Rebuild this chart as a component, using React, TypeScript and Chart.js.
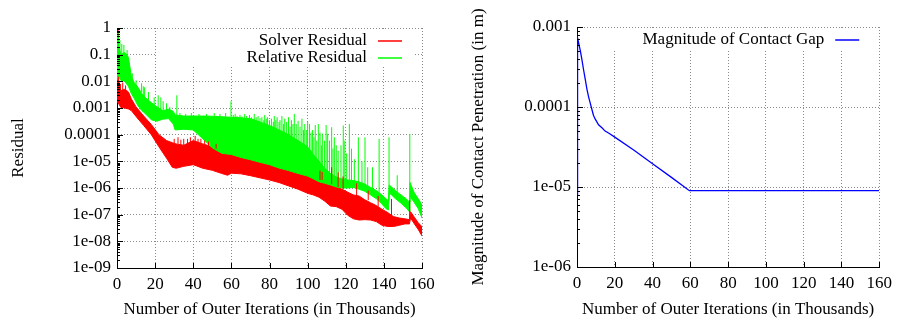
import React, { useEffect, useRef } from "react";
import { Chart, registerables } from "chart.js";
Chart.register(...registerables);

const FONT = "'Liberation Serif', 'Times New Roman', serif";

// ---------- shared x axis ----------
const xTickValues = [0, 20, 40, 60, 80, 100, 120, 140, 160];

// ---------- left chart: residuals ----------
const leftYTicks = [1, 0.1, 0.01, 0.001, 0.0001, 1e-5, 1e-6, 1e-7, 1e-8, 1e-9];
const leftYTickLabels = ["1", "0.1", "0.01", "0.001", "0.0001", "1e-05", "1e-06", "1e-07", "1e-08", "1e-09"];

// Solver residual band (upper / lower envelope of the noisy trace)
const redX = [0, 0.5, 2, 4, 6, 7.5, 10, 14, 18, 22, 26, 29, 31, 35, 40, 45, 50, 55, 58, 60, 65, 70, 75, 80, 85, 90, 95, 100, 103, 106, 109, 112, 115, 118, 121, 124, 127, 130, 133, 136, 139, 142, 145, 148, 151, 153.4, 154, 156, 158, 160];
const redHigh = [1.0, 0.012, 0.0045, 0.005, 0.004, 0.0022, 0.0011, 0.0005, 0.00024, 0.0001, 6e-5, 5e-5, 4.5e-5, 4e-5, 6e-5, 4.5e-5, 3.5e-5, 2.6e-5, 2.2e-5, 2e-5, 1.7e-5, 1.3e-5, 1.05e-5, 8e-6, 6.3e-6, 5e-6, 3.8e-6, 3e-6, 2.6e-6, 2.3e-6, 1.8e-6, 1.5e-6, 1.15e-6, 9e-7, 7e-7, 5.5e-7, 5e-7, 3.6e-7, 2.8e-7, 2.2e-7, 1.6e-7, 1.2e-7, 8.5e-8, 7.5e-8, 7e-8, 6.5e-8, 1.3e-7, 8e-8, 5e-8, 3.5e-8];
const redLow = [0.01, 0.0016, 0.00105, 0.001, 0.00092, 0.0008, 0.00048, 0.00022, 0.0001, 3.5e-5, 1.3e-5, 6e-6, 5.5e-6, 6.5e-6, 7.5e-6, 5.5e-6, 4.6e-6, 3.5e-6, 3e-6, 3.6e-6, 3.4e-6, 2.9e-6, 2.4e-6, 2e-6, 1.6e-6, 1.2e-6, 9e-7, 6.3e-7, 5.5e-7, 4.5e-7, 3.2e-7, 2.1e-7, 2e-7, 1.6e-7, 9.5e-8, 7e-8, 6.3e-8, 6.5e-8, 6.3e-8, 5.5e-8, 4e-8, 3.6e-8, 3.6e-8, 4e-8, 4.5e-8, 4.5e-8, 7.5e-8, 4.5e-8, 2.8e-8, 1.6e-8];
// isolated red spikes: x, base, top
const redSpikeX = [0.7, 1, 1.8, 3, 4.5, 30, 32, 33.5, 35, 37, 38.5, 41, 42.5, 44, 46, 48, 52, 106.5, 107.6, 112.6, 116, 118.6, 125.7, 131.8, 137, 144, 153.5];
const redSpikeBase = [0.005, 0.004, 0.004, 0.004, 0.004, 4.5e-5, 4.5e-5, 4e-5, 4e-5, 4e-5, 4.5e-5, 5e-5, 5e-5, 4.5e-5, 4e-5, 3.8e-5, 3e-5, 2e-6, 2e-6, 1.4e-6, 1.1e-6, 9e-7, 5e-7, 3.5e-7, 2e-7, 9e-8, 6.5e-8];
const redSpikeTop = [0.015, 0.011, 0.008, 0.009, 0.007, 7e-5, 8e-5, 6.5e-5, 7e-5, 7e-5, 8e-5, 9e-5, 7e-5, 7e-5, 6e-5, 5.5e-5, 4.5e-5, 4.5e-6, 4e-6, 6e-6, 3.9e-6, 2.7e-6, 1.5e-6, 8e-7, 5e-7, 3.9e-7, 3.4e-7];

// Relative residual band
const greenX = [0, 0.5, 2, 4, 6, 7.5, 9, 11, 13, 15, 18, 21, 24, 27, 29.5, 30.5, 35, 40, 45, 50, 55, 60, 65, 70, 75, 80, 85, 90, 95, 100, 103, 106, 109, 112, 115, 118, 121, 124, 127, 130, 133, 136, 139, 141, 142.4, 142.8, 144, 146, 149, 152, 153.3, 153.7, 156, 158, 160];
const greenHigh = [0.7, 0.3, 0.1, 0.12, 0.08, 0.016, 0.009, 0.006, 0.0035, 0.0024, 0.0016, 0.0011, 0.0008, 0.0009, 0.00075, 0.00055, 0.0005, 0.0005, 0.0005, 0.00049, 0.00047, 0.00045, 0.00043, 0.0004, 0.0003, 0.00022, 0.00015, 1e-4, 6e-5, 3.5e-5, 1.8e-5, 1e-5, 5.5e-6, 3.5e-6, 2.6e-6, 2.2e-6, 2e-6, 1.9e-6, 1.7e-6, 1.4e-6, 1.05e-6, 8e-7, 5.5e-7, 4e-7, 3.3e-7, 1.3e-6, 1.1e-6, 8e-7, 5.5e-7, 3.8e-7, 3e-7, 1.6e-6, 6.5e-7, 4e-7, 2.3e-7];
const greenLow = [0.012, 0.014, 0.011, 0.01, 0.0065, 0.0035, 0.0023, 0.0012, 0.0008, 0.0006, 0.00036, 0.00032, 0.00038, 0.0004, 0.00025, 0.00015, 0.00016, 0.00015, 7e-5, 3.2e-5, 2e-5, 1.8e-5, 1.4e-5, 1.15e-5, 9.2e-6, 7.5e-6, 5.6e-6, 4.5e-6, 3.5e-6, 2.8e-6, 2.2e-6, 1.7e-6, 1.5e-6, 1.3e-6, 1.1e-6, 1e-6, 1e-6, 1.05e-6, 9e-7, 7.5e-7, 5.5e-7, 4e-7, 2.5e-7, 1.7e-7, 1.5e-7, 6.5e-7, 5.5e-7, 4e-7, 2.7e-7, 1.7e-7, 1.3e-7, 5e-7, 2.8e-7, 1.7e-7, 7.5e-8];
// isolated green spikes: x, base, top
const greenSpikeX = [0.8, 1.5, 2.5, 3.6, 4.8, 5.3, 8, 10, 12.9, 13.8, 14.5, 16.5, 19.5, 21.6, 23, 24.2, 26, 27.7, 31.4, 33, 36, 39, 43, 47, 51, 54, 57, 59.8,
  61, 62, 63, 64.5, 65.5, 67, 68, 69.5, 70.5, 72, 73, 74, 75, 76, 77, 77.5, 78.3, 79, 80, 81, 82, 82.5, 83.3, 84, 85, 85.5, 86.5, 87.3, 88, 89, 90, 90.8, 91.5, 92.3, 93, 94, 95, 96, 97, 97.8, 98.5, 99.3, 100,
  101, 101.8, 102.5, 103.3, 104, 104.8, 105.6, 106.5, 107.2, 107.7, 108.8, 109.7, 110.5, 111.5, 112.6, 113.3, 114, 115, 116, 117.5, 118.7, 119.5, 120.5, 121.9, 123, 124.5, 126.6, 128.5, 130.1, 131.5, 134, 137.5, 142.7, 147, 153.6];
const greenSpikeBase = [0.2, 0.12, 0.1, 0.1, 0.09, 0.08, 0.012, 0.007, 0.004, 0.003, 0.0025, 0.002, 0.0013, 0.001, 0.0009, 0.0008, 0.0008, 0.0008, 0.0005, 4.8e-4, 4.8e-4, 4.8e-4, 4.8e-4, 4.8e-4, 4.7e-4, 4.6e-4, 4.5e-4, 4.4e-4,
  3e-4, 3e-4, 3e-4, 3e-4, 3e-4, 3e-4, 3e-4, 3e-4, 3e-4, 3e-4, 3e-4, 3e-4, 1.5e-4, 1.5e-4, 1.5e-4, 1.5e-4, 1.5e-4, 1.5e-4, 1.5e-4, 1.5e-4, 1.5e-4, 1.5e-4, 1.5e-4, 1.5e-4, 1e-4, 1e-4, 1e-4, 1e-4, 1e-4, 1e-4, 6e-5, 6e-5, 6e-5, 6e-5, 6e-5, 6e-5, 3.5e-5, 3.5e-5, 3.5e-5, 3.5e-5, 3.5e-5, 3.5e-5, 3e-5,
  1.8e-5, 1.8e-5, 1.8e-5, 1e-5, 1e-5, 1e-5, 1e-5, 5.5e-6, 5.5e-6, 5.5e-6, 5.5e-6, 3.5e-6, 3.5e-6, 3.5e-6, 2.5e-6, 2.5e-6, 2.5e-6, 2.4e-6, 2.3e-6, 2.2e-6, 2.1e-6, 2e-6, 2e-6, 1.9e-6, 1.9e-6, 1.8e-6, 1.6e-6, 1.5e-6, 1.3e-6, 1.2e-6, 9e-7, 6.5e-7, 3.3e-7, 6.5e-7, 3e-7];
const greenSpikeTop = [0.5, 0.35, 0.25, 0.23, 0.11, 0.15, 0.02, 0.011, 0.0085, 0.0065, 0.006, 0.004, 0.0025, 0.003, 0.0025, 0.0018, 0.0015, 0.0011, 0.003, 6.5e-4, 6e-4, 6.5e-4, 6e-4, 6e-4, 6.5e-4, 6e-4, 6.5e-4, 1.8e-3,
  5.5e-4, 6e-4, 5e-4, 5.5e-4, 4.8e-4, 6e-4, 5e-4, 5.5e-4, 4.5e-4, 6e-4, 4.5e-4, 5e-4, 4.2e-4, 4.5e-4, 3.5e-4, 5.5e-4, 4e-4, 4.5e-4, 3.5e-4, 4e-4, 3e-4, 5e-4, 3.5e-4, 4.5e-4, 3e-4, 3.5e-4, 5e-4, 2.5e-4, 4e-4, 3e-4, 4.5e-4, 2e-4, 3.5e-4, 2.5e-4, 6e-4, 2.5e-4, 3.3e-4, 2e-4, 4e-4, 1.5e-4, 2.5e-4, 1.5e-4, 3e-4,
  2.5e-4, 1.2e-4, 1.5e-4, 8e-5, 2.3e-4, 6e-5, 2.5e-4, 1.2e-4, 4e-5, 1.1e-4, 6e-5, 2.3e-4, 1.1e-4, 6e-5, 1.9e-4, 3e-5, 8e-5, 4e-5, 2.5e-5, 4e-5, 2.2e-4, 6e-5, 2e-5, 2.5e-4, 3e-5, 1.2e-5, 8e-5, 1e-5, 8e-5, 6e-6, 6e-6, 7e-5, 8e-5, 3e-6, 1.06e-4];

// ---------- right chart: contact gap ----------
const rightYTicks = [0.001, 0.0001, 1e-5, 1e-6];
const rightYTickLabels = ["0.001", "0.0001", "1e-05", "1e-06"];
const gapX = [0, 0.3, 0.9, 1.8, 2.6, 3.5, 4.4, 5.2, 6.1, 7, 7.9, 8.7, 9.6, 11.4, 13.2, 14.9, 16.9, 20, 30, 40, 50, 59.5, 80, 100, 120, 140, 160];
const gapY = [8e-6, 7.3e-4, 6.3e-4, 5e-4, 3.9e-4, 2.9e-4, 2.2e-4, 1.7e-4, 1.35e-4, 1.12e-4, 9.3e-5, 7.9e-5, 7.1e-5, 6e-5, 5.5e-5, 5e-5, 4.7e-5, 4.2e-5, 2.9e-5, 1.95e-5, 1.32e-5, 9e-6, 9e-6, 9e-6, 9e-6, 9e-6, 9e-6];

const pts = (xs: number[], ys: number[]) => xs.map((x, i) => ({ x, y: ys[i] }));
const spikes = (xs: number[], base: number[], top: number[]) => {
  const out: any[] = [];
  xs.forEach((x, i) => {
    out.push({ x, y: base[i] }, { x, y: top[i] }, { x, y: null });
  });
  return out;
};

const labelFor = (ticks: number[], labels: string[]) => (v: any) => {
  const i = ticks.findIndex((t) => Math.abs(Math.log10(t) - Math.log10(Number(v))) < 1e-6);
  return i >= 0 ? labels[i] : "";
};

const tickMarks = {
  id: "tickMarks",
  afterDraw(chart: any) {
    const { ctx, chartArea, scales } = chart;
    const y = scales.y;
    const x = scales.x;
    ctx.save();
    ctx.strokeStyle = "#000";
    ctx.lineWidth = 1;
    const lo = Math.round(Math.log10(y.min));
    const hi = Math.round(Math.log10(y.max));
    for (let k = lo; k <= hi; k++) {
      for (let m = 1; m <= 9; m++) {
        const v = m * Math.pow(10, k);
        if (v < y.min * 0.999 || v > y.max * 1.001) continue;
        const py = Math.round(y.getPixelForValue(v)) + 0.5;
        const len = m === 1 ? 6 : 3;
        ctx.beginPath();
        ctx.moveTo(chartArea.left, py);
        ctx.lineTo(chartArea.left + len, py);
        ctx.stroke();
      }
    }
    for (const t of x.ticks) {
      const px = Math.round(x.getPixelForValue(t.value)) + 0.5;
      ctx.beginPath();
      ctx.moveTo(px, chartArea.bottom);
      ctx.lineTo(px, chartArea.bottom - 5);
      ctx.stroke();
    }
    ctx.restore();
  },
};

type Key = { text: string; color: string };
const makeKey = (items: Key[], boxLeft: number, boxBottom: number) => ({
  id: "gnuKey",
  beforeDatasetsDraw(chart: any) {
    const { ctx, chartArea } = chart;
    const right = chartArea.right;
    const top = chartArea.top;
    ctx.save();
    ctx.fillStyle = "#fff";
    ctx.fillRect(chartArea.left + boxLeft, top + 2, right - 9 - (chartArea.left + boxLeft), boxBottom);
    ctx.font = `17px ${FONT}`;
    ctx.textAlign = "right";
    ctx.textBaseline = "middle";
    items.forEach((it, i) => {
      const yy = top + 13 + i * 16.7;
      ctx.fillStyle = "#000";
      ctx.fillText(it.text, right - 55, yy);
      ctx.strokeStyle = it.color;
      ctx.lineWidth = 1.5;
      ctx.beginPath();
      ctx.moveTo(right - 44, Math.round(yy));
      ctx.lineTo(right - 20, Math.round(yy));
      ctx.stroke();
    });
    ctx.restore();
  },
});

const font = { family: FONT, size: 17 };

const xScale = (h: number) => ({
  type: "linear",
  min: 0,
  max: 160,
  afterBuildTicks: (s: any) => {
    s.ticks = xTickValues.map((v) => ({ value: v }));
  },
  afterFit: (s: any) => {
    s.height = h;
  },
  ticks: { font, color: "#000", padding: 6, autoSkip: false, maxRotation: 0 },
  grid: { color: "#8a8a8a", drawTicks: false },
  border: { display: true, color: "#000", width: 1, dash: [1, 2] },
  title: { display: true, text: "Number of Outer Iterations (in Thousands)", font, color: "#000", padding: { top: 0, bottom: 0 } },
});

const yScale = (min: number, max: number, ticks: number[], labels: string[], w: number, title: string, tpad: number) => ({
  type: "logarithmic",
  min,
  max,
  afterBuildTicks: (s: any) => {
    s.ticks = ticks.map((v) => ({ value: v }));
  },
  afterFit: (s: any) => {
    s.width = w;
  },
  ticks: { font, color: "#000", padding: 6, autoSkip: false, callback: labelFor(ticks, labels) },
  grid: { color: "#8a8a8a", drawTicks: false },
  border: { display: true, color: "#000", width: 1, dash: [1, 2] },
  title: { display: true, text: title, font, color: "#000", padding: { top: tpad, bottom: 0 } },
});

const line = (label: string, data: any[], color: string, extra: any = {}) => ({
  label,
  data,
  borderColor: color,
  backgroundColor: color,
  borderWidth: 1,
  pointRadius: 0,
  fill: false,
  tension: 0,
  spanGaps: false,
  ...extra,
});

function LeftChart() {
  const ref = useRef<HTMLCanvasElement>(null);
  useEffect(() => {
    const chart = new Chart(ref.current as HTMLCanvasElement, {
      type: "line",
      data: {
        datasets: [
          line("Solver Residual", pts(redX, redHigh), "#ff0000", { order: 2 }),
          line("Solver Residual low", pts(redX, redLow), "#ff0000", { order: 2, fill: "-1" }),
          line("Relative Residual", pts(greenX, greenHigh), "#00ff00", { order: 1 }),
          line("Relative Residual low", pts(greenX, greenLow), "#00ff00", { order: 1, fill: "-1" }),
          line("Solver spikes", spikes(redSpikeX, redSpikeBase, redSpikeTop), "#ff0000", { order: 0 }),
          line("Relative spikes", spikes(greenSpikeX, greenSpikeBase, greenSpikeTop), "#00ff00", { order: 1 }),
        ],
      } as any,
      options: {
        animation: false,
        responsive: false,
        maintainAspectRatio: false,
        devicePixelRatio: 1,
        layout: { padding: { top: 28, right: 27, left: 0, bottom: 0 } },
        scales: {
          x: xScale(52),
          y: yScale(1e-9, 1, leftYTicks, leftYTickLabels, 117, "Residual", 8),
        } as any,
        plugins: { legend: { display: false }, tooltip: { enabled: false } },
      },
      plugins: [
        tickMarks,
        makeKey(
          [
            { text: "Solver Residual", color: "#ff0000" },
            { text: "Relative Residual", color: "#00ff00" },
          ],
          40,
          36
        ),
      ],
    });
    return () => chart.destroy();
  }, []);
  return <canvas ref={ref} width={449} height={320} style={{ position: "absolute", left: 0, top: 0, width: 449, height: 320 }} />;
}

function RightChart() {
  const ref = useRef<HTMLCanvasElement>(null);
  useEffect(() => {
    const chart = new Chart(ref.current as HTMLCanvasElement, {
      type: "line",
      data: {
        datasets: [line("Magnitude of Contact Gap", pts(gapX, gapY), "#0000ff", { borderWidth: 1.3 })],
      } as any,
      options: {
        animation: false,
        responsive: false,
        maintainAspectRatio: false,
        devicePixelRatio: 1,
        layout: { padding: { top: 27, right: 16, left: 0, bottom: 0 } },
        scales: {
          x: xScale(53),
          y: yScale(1e-6, 1e-3, rightYTicks, rightYTickLabels, 128, "Magnitude of Contact Penetration (in m)", 19),
        } as any,
        plugins: { legend: { display: false }, tooltip: { enabled: false } },
      },
      plugins: [tickMarks, makeKey([{ text: "Magnitude of Contact Gap", color: "#0000ff" }], 30, 21)],
    });
    return () => chart.destroy();
  }, []);
  return <canvas ref={ref} width={449} height={320} style={{ position: "absolute", left: 449, top: 0, width: 449, height: 320 }} />;
}

export default function App() {
  return (
    <div style={{ position: "fixed", left: 0, top: 0, width: 898, height: 320, background: "#fff" }}>
      <LeftChart />
      <RightChart />
    </div>
  );
}
